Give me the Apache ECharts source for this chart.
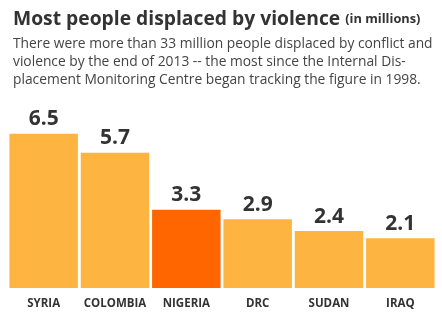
<!DOCTYPE html>
<html><head><meta charset="utf-8">
<script src="https://cdn.jsdelivr.net/npm/echarts@6/dist/echarts.min.js"></script>
<style>html,body{margin:0;padding:0;background:#fff}#c{width:442px;height:330px}</style>
</head><body><div id="c"></div>
<script>
const categories = ['SYRIA','COLOMBIA','NIGERIA','DRC','SUDAN','IRAQ'];
const values = [6.5, 5.7, 3.3, 2.9, 2.4, 2.1];
const highlight = 'NIGERIA';
const titleText = 'Most people displaced by violence';
const titleUnit = '(in millions)';
const subtitleText = 'There were more than 33 million people displaced by conflict and\nviolence by the end of 2013 -- the most since the Internal Dis-\nplacement Monitoring Centre began tracking the figure in 1998.';

const chart = echarts.init(document.getElementById('c'), null, {renderer:'canvas'});
chart.setOption({
  animation:false,
  backgroundColor:'#fff',
  title:{
    left:8, top:5,
    text:'{a|'+titleText+'} {b|'+titleUnit+'}',
    textStyle:{rich:{
      a:{fontFamily:'Open Sans',fontWeight:'bold',fontSize:19.3,color:'#333'},
      b:{fontFamily:'Open Sans',fontWeight:'bold',fontSize:12.8,color:'#333'}
    }},
    subtext:subtitleText,
    itemGap:6,
    subtextStyle:{fontFamily:'Open Sans',fontSize:13.8,color:'#444',lineHeight:18}
  },
  grid:{left:8,right:6,top:122,bottom:42},
  xAxis:{type:'category',data:categories,
    axisLine:{show:false},axisTick:{show:false},
    axisLabel:{interval:0,margin:10,fontFamily:'Open Sans',fontWeight:'bold',fontSize:11.5,color:'#333'}},
  yAxis:{type:'value',min:0,max:7,show:false,splitLine:{show:false}},
  series:[{type:'bar',barCategoryGap:'4%',
    data:values.map((v,i)=>({value:v,itemStyle:{color:categories[i]===highlight?'#FF6600':'#FDB441'}})),
    label:{show:true,position:'top',distance:4,fontFamily:'Open Sans',fontWeight:'bold',fontSize:21,color:'#333',
      formatter:p=>p.value.toFixed(1)}
  }]
});
</script></body></html>
